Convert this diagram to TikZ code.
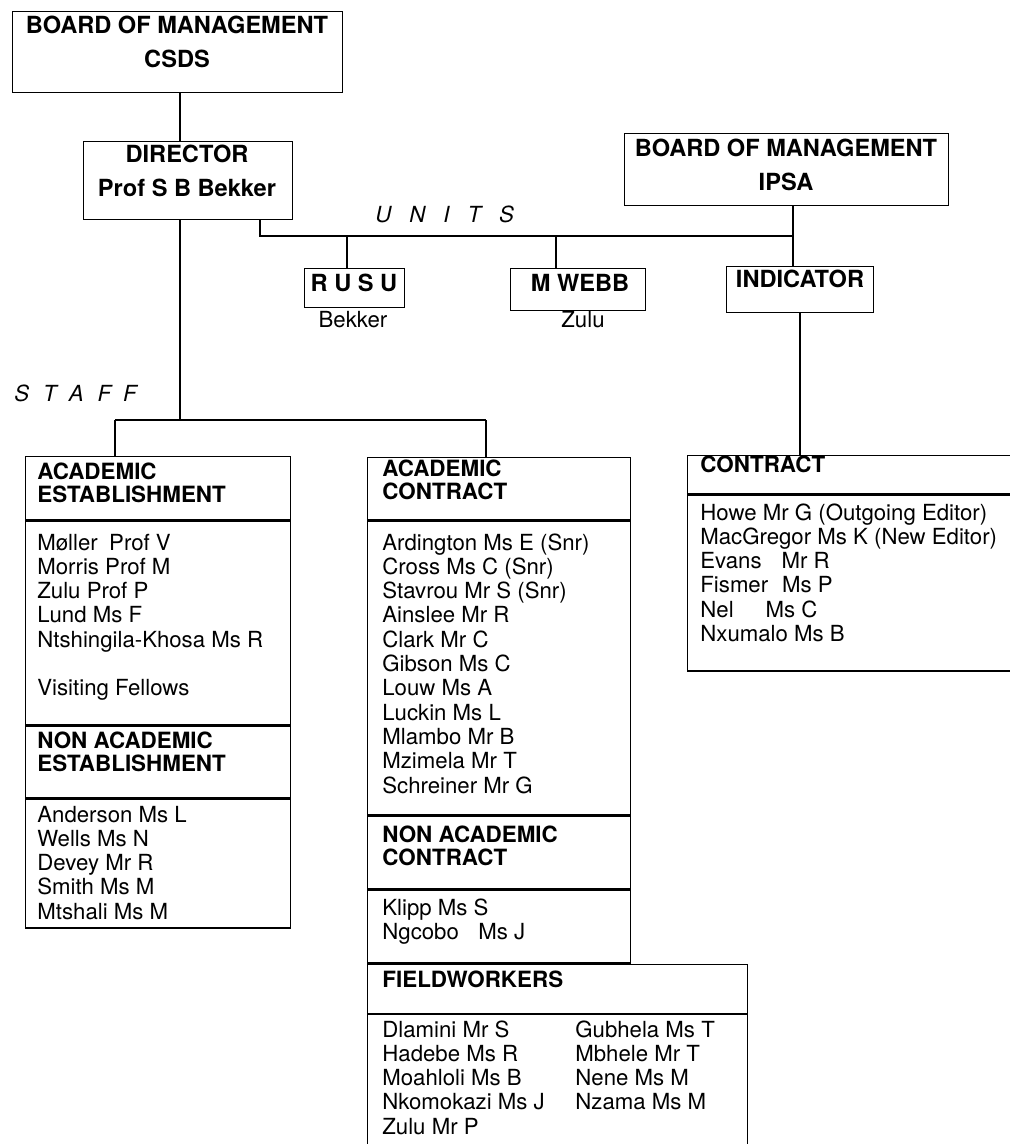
\documentclass[tikz,border=0pt]{standalone}
\usepackage{fontspec}
\setmainfont{TeX Gyre Heros}
\usetikzlibrary{positioning}

\newcommand{\titlefont}{\fontsize{11.8}{17}\selectfont\bfseries}
\newcommand{\headfont}{\fontsize{11.2}{11.8}\selectfont\bfseries}
\newcommand{\namefont}{\fontsize{11.1}{12.15}\selectfont}
\newcommand{\rows}[1]{\begin{tabular}[t]{@{}l@{}}#1\end{tabular}}
\newcommand{\crows}[1]{\begin{tabular}[t]{@{}c@{}}#1\end{tabular}}

\tikzset{
  basic/.style    = {draw, rectangle, inner sep=0pt, anchor=north west,
                     line width=0.7pt},
  boxtitle/.style = {anchor=base, inner sep=0pt, font=\titlefont},
  heading/.style  = {anchor=base west, inner sep=0pt, font=\headfont},
  names/.style    = {anchor=base west, inner sep=0pt, font=\namefont},
  spaced/.style   = {anchor=base west, inner sep=0pt, font=\namefont\itshape},
  link/.style     = {line width=0.8pt}
}

\begin{document}
\begin{tikzpicture}[x=0.5pt, y=-0.5pt]
\useasboundingbox (0,0) rectangle (1010,1144);

% boards, director and units
\node[basic, minimum width=165pt, minimum height=40.5pt] (bcsds) at (12,11) {};
\node[boxtitle] (tcsds) at (177,34) {\crows{BOARD OF MANAGEMENT\\CSDS}};
\node[basic, minimum width=104.5pt, minimum height=39pt] (director) at (83,141) {};
\node[boxtitle] (tdirector) at (187,163) {\crows{DIRECTOR\\Prof S B Bekker}};
\node[basic, minimum width=162pt, minimum height=36pt] (bipsa) at (624,133) {};
\node[boxtitle] (tipsa) at (786,157) {\crows{BOARD OF MANAGEMENT\\IPSA}};

\node[basic, minimum width=50pt, minimum height=19.5pt] (rusu) at (304,268) {};
\node[boxtitle] (trusu) at (354,292) {R U S U};
\node[names, anchor=base] (nrusu) at (353,328) {Bekker};
\node[basic, minimum width=67.5pt, minimum height=21pt] (mwebb) at (510,268) {};
\node[boxtitle] (tmwebb) at (580,292) {M WEBB};
\node[names, anchor=base] (nmwebb) at (583,328) {Zulu};
\node[basic, minimum width=73.5pt, minimum height=23pt] (indicator) at (726,266) {};
\node[boxtitle] (tindicator) at (800,288) {INDICATOR};

\node[spaced] (units) at (375,223)
  {U\hspace{9pt}N\hspace{9pt}I\hspace{9pt}T\hspace{9pt}S};
\node[spaced] (staff) at (14,401)
  {S\hspace{7pt}T\hspace{6pt}A\hspace{7pt}F\hspace{6pt}F};

%Establishment
\node[basic, minimum width=132.5pt, minimum height=31.5pt] (estabhead) at (25,456) {};
\node[basic, minimum width=132.5pt, minimum height=102pt] (estabbody) at (estabhead.south west) {};
\node[basic, minimum width=132.5pt, minimum height=35.5pt] (nestabhead) at (estabbody.south west) {};
\node[basic, minimum width=132.5pt, minimum height=64.5pt] (nestabbody) at (nestabhead.south west) {};
\node[heading] (testab) at (37,479) {\rows{ACADEMIC\\ESTABLISHMENT}};
\node[names] (lestab) at (37,550) {\rows{M\o ller\hspace{5.7pt}Prof V\\Morris Prof M\\
  Zulu Prof P\\Lund Ms F\\Ntshingila-Khosa Ms R\\ \\Visiting Fellows}};
\node[heading] (tnestab) at (37,748) {\rows{NON ACADEMIC\\ESTABLISHMENT}};
\node[names] (lnestab) at (37,822) {\rows{Anderson Ms L\\Wells Ms N\\Devey Mr R\\
  Smith Ms M\\Mtshali Ms M}};

%Contract
\node[basic, minimum width=131.5pt, minimum height=31pt] (contrhead) at (367,457) {};
\node[basic, minimum width=131.5pt, minimum height=147pt] (contrbody) at (contrhead.south west) {};
\node[basic, minimum width=131.5pt, minimum height=36pt] (ncontrhead) at (contrbody.south west) {};
\node[basic, minimum width=131.5pt, minimum height=36.5pt] (ncontrbody) at (ncontrhead.south west) {};
\node[basic, minimum width=190pt, minimum height=24.5pt] (fieldhead) at (ncontrbody.south west) {};
\node[basic, minimum width=190pt, minimum height=80pt] (fieldbody) at (fieldhead.south west) {};
\node[heading] (tcontr) at (382,476) {\rows{ACADEMIC\\CONTRACT}};
\node[names] (lcontr) at (382,550) {\rows{Ardington Ms E (Snr)\\Cross Ms C (Snr)\\
  Stavrou Mr S (Snr)\\Ainslee Mr R\\Clark Mr C\\Gibson Ms C\\Louw Ms A\\
  Luckin Ms L\\Mlambo Mr B\\Mzimela Mr T\\Schreiner Mr G}};
\node[heading] (tncontr) at (382,842) {\rows{NON ACADEMIC\\CONTRACT}};
\node[names] (lncontr) at (382,915) {\rows{Klipp Ms S\\Ngcobo\hspace{9.75pt}Ms J}};
\node[heading] (tfield) at (382,987) {FIELDWORKERS};
\node[names] (lfield1) at (382,1037) {\rows{Dlamini Mr S\\Hadebe Ms R\\
  Moahloli Ms B\\Nkomokazi Ms J\\Zulu Mr P}};
\node[names] (lfield2) at (575,1037) {\rows{Gubhela Ms T\\Mbhele Mr T\\
  Nene Ms M\\Nzama Ms M}};

%Indicator
\node[basic, minimum width=166.5pt, minimum height=19pt] (ipsahead) at (687,455) {};
\node[basic, minimum width=166.5pt, minimum height=88pt] (ipsabody) at (ipsahead.south west) {};
\node[heading] (tipsahead) at (700,472) {CONTRACT};
\node[names] (lipsa) at (700,520) {\rows{Howe Mr G (Outgoing Editor)\\
  MacGregor Ms K (New Editor)\\Evans\hspace{10pt}Mr R\\Fismer\hspace{7pt}Ms P\\
  Nel\hspace{16pt}Ms C\\Nxumalo Ms B}};

% lines between the boxes
\coordinate (staffbar) at (180,420);
\coordinate (s1) at (115,420);
\coordinate (s2) at (486,420);
\draw[link] (staffbar |- bcsds.south) -- (staffbar |- director.north);
\draw[link] (staffbar |- director.south) -- (staffbar);
\draw[link] (s1) -- (s2);
\foreach \s/\b in {s1/estabhead, s2/contrhead}
  \draw[link] (\s) -- (\s |- \b.north);

\coordinate (u0) at (260,236);
\coordinate (u1) at (793,236);
\coordinate (urusu) at (347,236);
\coordinate (uwebb) at (556,236);
\draw[link] (u0 |- director.south) -- (u0) -- (u1);
\draw[link] (u1 |- bipsa.south) -- (u1 |- indicator.north);
\foreach \u/\b in {urusu/rusu, uwebb/mwebb}
  \draw[link] (\u) -- (\u |- \b.north);
\draw[link] (indicator.south) -- (indicator.south |- ipsahead.north);
\end{tikzpicture}
\end{document}
